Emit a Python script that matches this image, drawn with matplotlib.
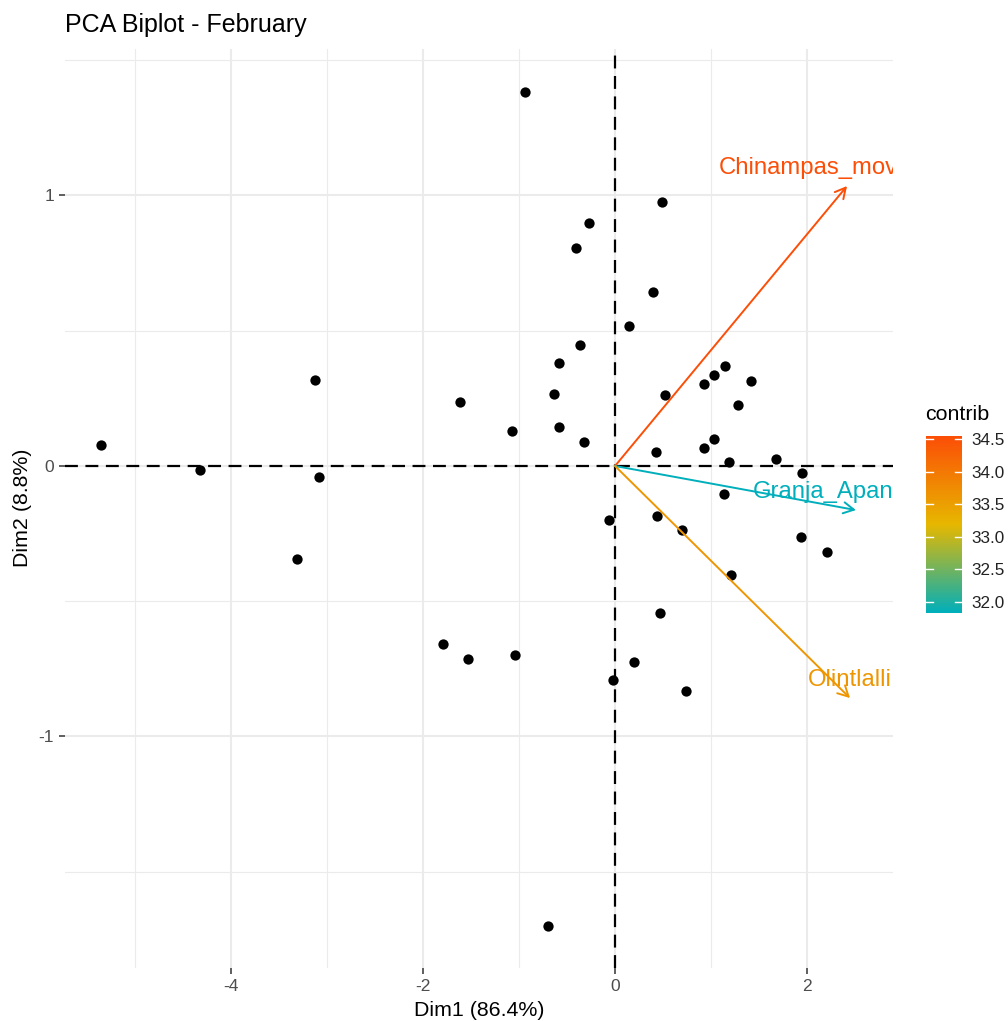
import numpy as np
import matplotlib
matplotlib.use('Agg')
import matplotlib.pyplot as plt
from matplotlib.colors import LinearSegmentedColormap, Normalize
from matplotlib.transforms import offset_copy

plt.rcParams['font.family'] = ['Liberation Sans', 'DejaVu Sans']
plt.rcParams['axes.unicode_minus'] = False

# ---------------------------------- data ---------------------------------- #
dim1 = [-5.354, -4.323, -3.125, -3.083, -3.313, -1.615, -0.938, -1.073, -0.635,
        -0.583, -0.365, -0.583, -0.323, 0.396, 0.146, 0.521, 0.427, 0.490,
        -0.271, -0.406, 0.927, 1.031, 1.146, 1.417, 1.281, 0.927, 1.031, 1.188,
        1.677, 1.948, 1.135, -0.063, 0.438, 0.698, 1.938, 2.208, 1.208, 0.469,
        0.198, -0.021, 0.740, -1.792, -1.531, -1.042, -0.698]
dim2 = [0.078, -0.015, 0.318, -0.041, -0.344, 0.237, 1.383, 0.129, 0.266,
        0.381, 0.447, 0.144, 0.089, 0.643, 0.518, 0.262, 0.052, 0.976,
        0.898, 0.806, 0.303, 0.336, 0.370, 0.314, 0.226, 0.067, 0.100, 0.015,
        0.026, -0.026, -0.104, -0.200, -0.185, -0.237, -0.262, -0.318, -0.403,
        -0.543, -0.725, -0.791, -0.832, -0.658, -0.713, -0.699, -1.701]

var_names = ['Chinampas_movimiento', 'Granja_Apanhuaca', 'Olintlalli']
var_x = [2.417, 2.510, 2.448]
var_y = [1.035, -0.163, -0.858]
var_contrib = [34.55, 31.83, 33.62]

x_ticks = [-4, -2, 0, 2]
y_ticks = [-1, 0, 1]
cbar_ticks = [32.0, 32.5, 33.0, 33.5, 34.0, 34.5]

grad_cols = ['#00AFBB', '#E7B800', '#FC4E07']
cmap = LinearSegmentedColormap.from_list('contrib', grad_cols)
norm = Normalize(min(var_contrib), max(var_contrib))

# --------------------------------- figure --------------------------------- #
W, H = 1008, 1021
fig = plt.figure(figsize=(W / 100, H / 100), dpi=100)
ax = fig.add_axes([65 / W, 1 - 968 / H, (893 - 65) / W, (968 - 49) / H])
ax.set_xlim(-5.73, 2.896)
ax.set_ylim(-1.856, 1.5416)
for s in ax.spines.values():
    s.set_visible(False)

ax.set_xticks(x_ticks)
ax.set_xticklabels([str(t) for t in x_ticks])
ax.set_yticks(y_ticks)
ax.set_yticklabels([str(t) for t in y_ticks])
ax.set_xticks([-5, -3, -1, 1], minor=True)
ax.set_yticks([-1.5, -0.5, 0.5, 1.5], minor=True)
ax.grid(which='major', color='#EBEBEB', lw=1.5)
ax.grid(which='minor', color='#EBEBEB', lw=0.8)
ax.set_axisbelow(True)
ax.tick_params(which='minor', length=0)
ax.tick_params(which='major', length=4.3, width=1.1, color='#333333',
               labelcolor='#4D4D4D', labelsize=12.5, pad=3.6)

# reference lines
ax.axhline(0, color='black', lw=1.6, dashes=(5.8, 3.4), zorder=1)
ax.axvline(0, color='black', lw=1.6, dashes=(5.8, 3.4), zorder=1)

# individuals
ax.scatter(dim1, dim2, s=55, c='black', linewidths=0, zorder=3)

# variables
lab_trans = offset_copy(ax.transData, fig=fig, x=0, y=12, units='dots')
for name, x, y, c in zip(var_names, var_x, var_y, var_contrib):
    col = cmap(norm(c))
    ax.annotate('', xy=(x, y), xytext=(0, 0),
                arrowprops=dict(arrowstyle='->,head_length=0.75,head_width=0.4',
                                color=col, lw=1.4, shrinkA=0, shrinkB=0),
                zorder=4)
    ax.text(x, y, name, transform=lab_trans, color=col, fontsize=17.2,
            ha='center', va='baseline', clip_on=True, zorder=5)

# ------------------------------- colourbar -------------------------------- #
cax = fig.add_axes([926 / W, 1 - 613 / H, 36 / W, 177 / H])
grad = np.linspace(norm.vmin, norm.vmax, 256).reshape(-1, 1)
cax.imshow(grad, aspect='auto', cmap=cmap, norm=norm, origin='lower',
           extent=[0, 1, norm.vmin, norm.vmax])
cax.set_xlim(0, 1)
cax.set_ylim(norm.vmin, norm.vmax)
for t in cbar_ticks:
    cax.plot([0, 0.2], [t, t], color='white', lw=1)
    cax.plot([0.8, 1], [t, t], color='white', lw=1)
for s in cax.spines.values():
    s.set_visible(False)
cax.set_xticks([])
cax.yaxis.tick_right()
cax.set_yticks(cbar_ticks)
cax.set_yticklabels(['%.1f' % t for t in cbar_ticks])
cax.tick_params(length=0, labelsize=12.3, labelcolor='#222222', pad=7)

# --------------------------------- texts ---------------------------------- #
fig.text(925 / W, 1 - 420 / H, 'contrib', fontsize=15.4, ha='left', va='baseline')
fig.text(65 / W, 1 - 32 / H, 'PCA Biplot - February', fontsize=18,
         ha='left', va='baseline')
fig.text(479 / W, 1 - 1016 / H, 'Dim1 (86.4%)', fontsize=15.4,
         ha='center', va='baseline')
fig.text(23 / W, 1 - 508 / H, 'Dim2 (8.8%)', fontsize=15.4, rotation=90,
         ha='center', va='center')

fig.savefig('out.png', dpi=100)
